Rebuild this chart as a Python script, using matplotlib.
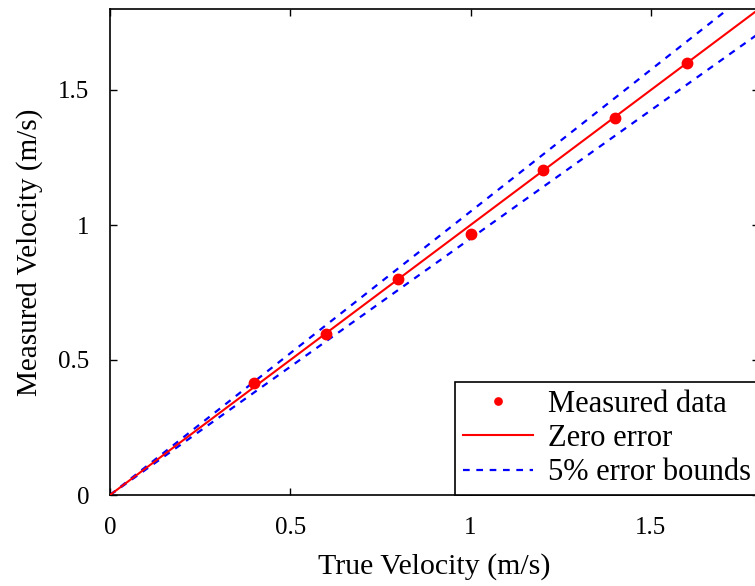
import numpy as np
import matplotlib
matplotlib.use("Agg")
import matplotlib.pyplot as plt

# measured vs true velocity (m/s)
true_vel = [0.4, 0.6, 0.8, 1.0, 1.2, 1.4, 1.6]
meas_vel = [0.416, 0.596, 0.8, 0.967, 1.204, 1.395, 1.6]
line_x = [0.0, 2.0]
err_frac = 0.05

plt.rcParams['font.family'] = ['Liberation Serif', 'DejaVu Serif']
plt.rcParams['font.size'] = 18

fig = plt.figure(figsize=(7.55, 5.86), dpi=100)
ax = fig.add_axes([110 / 755, 91 / 586, 649 / 755, 486 / 586])

lx = np.array(line_x)
ax.plot(true_vel, meas_vel, 'o', color='red', markersize=7.5,
        label='Measured data', zorder=4)
ax.plot(lx, lx, '-', color='red', lw=1.5, label='Zero error', zorder=3)
ax.plot(lx, lx * (1 + err_frac), '--', color='blue', lw=1.6,
        dashes=(3, 3), label='5% error bounds', zorder=2)
ax.plot(lx, lx * (1 - err_frac), '--', color='blue', lw=1.6,
        dashes=(3, 3), zorder=2)

ax.set_xlim(0, 1.8)
ax.set_ylim(0, 1.8)
ax.set_xticks([0, 0.5, 1, 1.5])
ax.set_yticks([0, 0.5, 1, 1.5])
ax.set_xticklabels(['0', '0.5', '1', '1.5'])
ax.set_yticklabels(['0', '0.5', '1', '1.5'])
ax.tick_params(direction='in', length=5, width=1, top=True, right=True,
               labelsize=18)
ax.tick_params(axis='x', pad=16)
ax.tick_params(axis='y', pad=15)
for s in ax.spines.values():
    s.set_linewidth(1.2)

ax.set_xlabel('True Velocity (m/s)', fontsize=21.5, labelpad=10)
ax.set_ylabel('Measured Velocity (m/s)', fontsize=21, labelpad=11)

leg = ax.legend(loc='lower right', borderaxespad=0, fancybox=False,
                edgecolor='black', framealpha=1, numpoints=1,
                markerscale=0.7, handlelength=2.3, handletextpad=0.5,
                labelspacing=0.17, borderpad=0.25, fontsize=22)
leg.get_frame().set_linewidth(1.2)

fig.savefig('out.png', dpi=100)
